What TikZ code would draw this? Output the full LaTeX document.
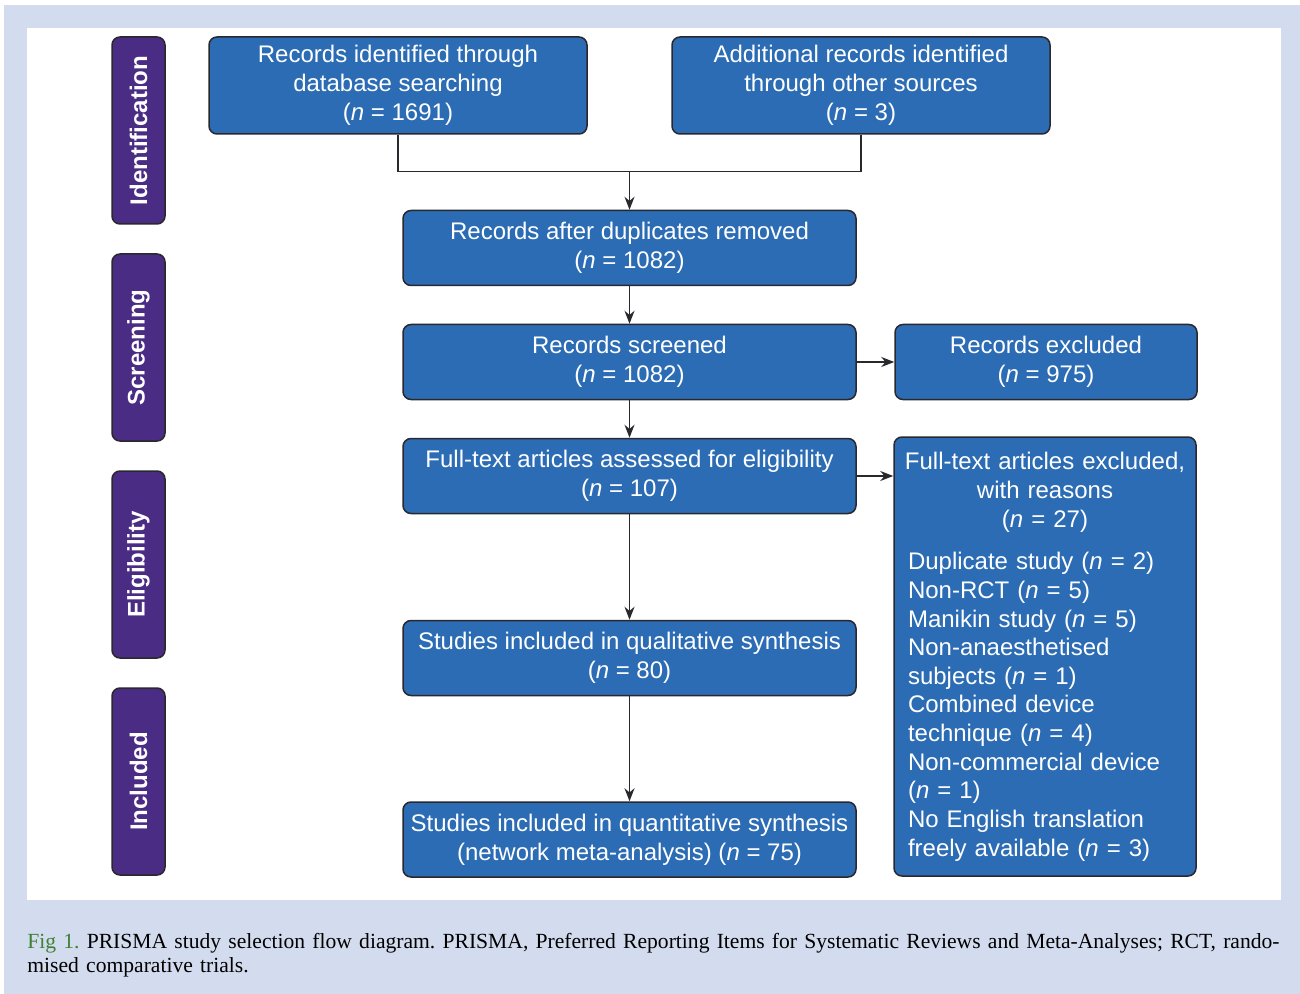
\documentclass[tikz,border=0pt]{standalone}
\usepackage{fontspec}
\setmainfont{Liberation Serif}
\newfontfamily\boxfont{Liberation Sans}
\usetikzlibrary{arrows.meta,positioning}

\definecolor{boxblue}{RGB}{43,108,180}
\definecolor{phasepurple}{RGB}{75,44,132}
\definecolor{edgegrey}{RGB}{40,40,45}
\definecolor{pagebg}{RGB}{211,220,238}
\definecolor{figgreen}{RGB}{62,128,52}

\begin{document}
\begin{tikzpicture}[
    x=0.5pt, y=-0.5pt,
    node distance=18.75pt,
    box node/.style={rectangle,rounded corners=4pt,draw=edgegrey,line width=0.75pt,fill=boxblue,text=white,font=\boxfont\fontsize{12}{14.5}\selectfont,align=center,inner sep=2pt},
    wide box/.style={box node,minimum width=226.5pt,minimum height=37.5pt},
    top box/.style={box node,minimum width=189pt,minimum height=48.5pt},
    side box/.style={box node,minimum width=151pt,minimum height=37.5pt},
    phase node/.style={rectangle,rounded corners=4pt,draw=edgegrey,line width=0.75pt,fill=phasepurple,text=white,font=\boxfont\bfseries\fontsize{12}{14.5}\selectfont,rotate=90,minimum width=93.5pt,minimum height=26.5pt},
    flow/.style={-{Stealth[length=6.5pt,width=5pt]},line width=0.75pt,draw=edgegrey}
]

% Page
\useasboundingbox (0,0) rectangle (1300,994);
\fill[pagebg] (4,5) rectangle (1300,994);
\fill[white] (27,28) rectangle (1281,900);

% Phases
\node[phase node] (identification) at (138.5,130.5) {Identification};
\node[phase node] (screening) at (138.5,347.5) {Screening};
\node[phase node] (eligibility) at (138.5,564.5) {Eligibility};
\node[phase node] (included) at (138.5,781.5) {Included};

% Identification
\node[top box] (database) at (398,85.5) {Records identified through\\database searching\\(\textit{n} = 1691)};
\node[top box] (other) at (861,85.5) {Additional records identified\\through other sources\\(\textit{n} = 3)};

% Main column
\node[wide box] (dedup) at (629.5,248) {Records after duplicates removed\\(\textit{n} = 1082)};
\node[wide box, below=of dedup] (screened) {Records screened\\(\textit{n} = 1082)};
\node[wide box, below=of screened] (fulltext) {Full-text articles assessed for eligibility\\(\textit{n} = 107)};
\node[wide box, below=52.75pt of fulltext] (qualitative) {Studies included in qualitative synthesis\\(\textit{n} = 80)};
\node[wide box, below=52.5pt of qualitative] (quantitative) {Studies included in quantitative synthesis\\(network meta-analysis) (\textit{n} = 75)};

% Exclusions
\node[side box, right=of screened] (excluded) {Records excluded\\(\textit{n} = 975)};
\node[box node, minimum width=151pt, minimum height=219.5pt, text width=137pt, align=left] (reasons) at (1045,656.5) {\centering\makebox[\linewidth]{Full-text articles excluded,}\\with reasons\\(\textit{n} = 27)\par\vspace{7pt}\raggedright\fontsize{12}{14.3}\selectfont
Duplicate study (\textit{n} = 2)\\
Non-RCT (\textit{n} = 5)\\
Manikin study (\textit{n} = 5)\\
Non-anaesthetised\\
subjects (\textit{n} = 1)\\
Combined device\\
technique (\textit{n} = 4)\\
Non-commercial device\\
(\textit{n} = 1)\\
No English translation\\
freely available (\textit{n} = 3)};

% Arrows
\coordinate[above=19pt of dedup] (merge);
\coordinate (reasonsin) at (fulltext.east -| reasons.west);
\draw[line width=0.75pt,draw=edgegrey] (database.south) |- (merge) -| (other.south);
\draw[flow] (merge) -- (dedup);
\draw[flow] (dedup) -- (screened);
\draw[flow] (screened) -- (fulltext);
\draw[flow] (fulltext) -- (qualitative);
\draw[flow] (qualitative) -- (quantitative);
\draw[flow] (screened) -- (excluded);
\draw[flow] (fulltext.east) -- (reasonsin);

% Caption
\node[anchor=base west, inner sep=0pt, text width=627pt, align=left, font=\fontsize{10.8}{12}\selectfont\frenchspacing] (caption) at (27,948) {\makebox[\linewidth][s]{\textcolor{figgreen}{Fig 1.} PRISMA study selection flow diagram. PRISMA, Preferred Reporting Items for Systematic Reviews and Meta-Analyses; RCT, rando-}\\mised comparative trials.};

\end{tikzpicture}
\end{document}
